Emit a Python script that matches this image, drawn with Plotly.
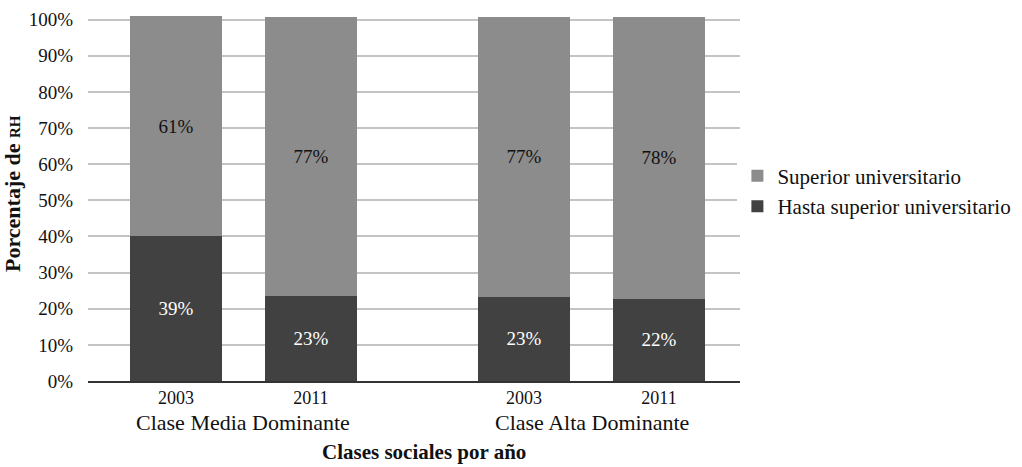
import plotly.graph_objects as go

years = ["2003", "2011", "2003", "2011"]
x_pos = [0, 1, 2.58, 3.58]
groups = ["Clase Media Dominante", "Clase Alta Dominante"]
group_pos = [0.5, 3.08]
dark_vals = [40, 23.5, 23.3, 22.8]
light_vals = [61, 77.3, 77.5, 78]
dark_labels = [39, 23, 23, 22]
light_labels = [61, 77, 77, 78]
y_ticks = list(range(0, 101, 10))

FONT = "Liberation Serif"
TXT = "#111111"

fig = go.Figure()
fig.add_trace(go.Bar(
    x=x_pos, y=dark_vals, name="Hasta superior universitario",
    marker=dict(color="#414141", line=dict(width=0)),
    width=0.68,
    text=[f"{v}%" for v in dark_labels], textposition="inside",
    insidetextanchor="middle", textangle=0,
    textfont=dict(family=FONT, size=19, color="white"),
))
fig.add_trace(go.Bar(
    x=x_pos, y=light_vals, name="Superior universitario",
    marker=dict(color="#8c8c8c", line=dict(width=0)),
    width=0.68,
    text=[f"{v}%" for v in light_labels], textposition="inside",
    insidetextanchor="middle", textangle=0,
    textfont=dict(family=FONT, size=19, color=TXT),
))

fig.update_layout(
    barmode="stack",
    width=1022, height=467,
    margin=dict(l=88, r=282, t=16, b=86, autoexpand=False),
    plot_bgcolor="white", paper_bgcolor="white",
    font=dict(family=FONT, size=18, color=TXT),
    showlegend=True,
    legend=dict(x=0.996, y=0.52, xanchor="left", yanchor="middle",
                traceorder="reversed", font=dict(family=FONT, size=21, color=TXT),
                itemwidth=30, tracegroupgap=0),
    uniformtext=dict(mode="show", minsize=10),
)
fig.update_xaxes(
    range=[-0.652, 4.18], tickvals=x_pos, ticktext=years,
    showgrid=False, showline=True, linecolor="#333333", linewidth=1.5,
    ticks="", tickfont=dict(family=FONT, size=18, color=TXT),
    zeroline=False, automargin=False,
)
fig.update_yaxes(
    range=[0, 101], tickvals=y_ticks, ticktext=[f"{v}%" for v in y_ticks],
    showgrid=True, gridcolor="#c4c4c4", gridwidth=1.5,
    showline=False, zeroline=False, ticks="",
    ticklabelstandoff=14, automargin=False,
    tickfont=dict(family=FONT, size=19, color=TXT),
)
fig.add_annotation(x=-0.1166, xref="paper", y=0.515, yref="paper",
                   text="<b>Porcentaje de <span style='font-size:15px'>RH</span></b>",
                   textangle=-90, showarrow=False, xanchor="center", yanchor="middle",
                   font=dict(family=FONT, size=22, color=TXT))
for g, p in zip(groups, group_pos):
    fig.add_annotation(x=p, xref="x", y=-0.113, yref="paper", text=g,
                       showarrow=False, yanchor="middle",
                       font=dict(family=FONT, size=22, color=TXT))
fig.add_annotation(x=(x_pos[0] + x_pos[-1]) / 2 + 0.05, xref="x", y=-0.195, yref="paper",
                   text="<b>Clases sociales por año</b>", showarrow=False, yanchor="middle",
                   font=dict(family=FONT, size=21, color=TXT))

fig.write_html("out.html", config={"displayModeBar": False},
               post_script="document.body.style.margin='0';document.body.style.overflow='hidden';")
